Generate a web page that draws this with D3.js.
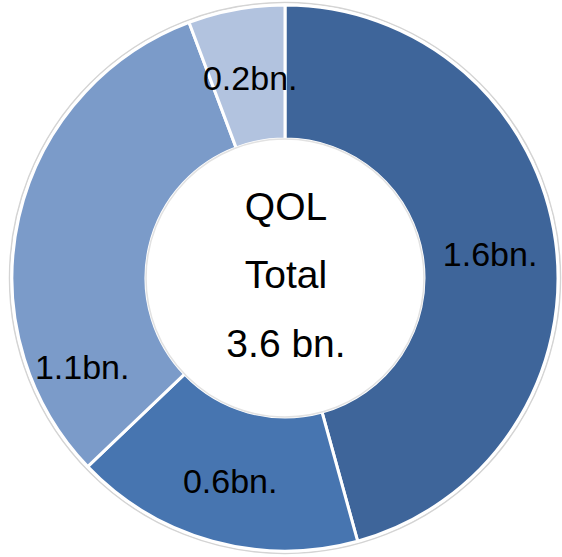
<!DOCTYPE html>
<html>
<head>
<meta charset="utf-8">
<script src="https://cdn.jsdelivr.net/npm/d3@7"></script>
<style>
  html, body { margin: 0; padding: 0; background: #fff; }
  svg { display: block; }
  text { font-family: "Liberation Sans", Arial, sans-serif; fill: #000; }
</style>
</head>
<body>
<div id="chart"></div>
<script>
// datos del gráfico
var categories = ["A", "B", "C", "D"];
var values = [1.6, 0.6, 1.1, 0.2];
var sliceLabels = ["1.6bn.", "0.6bn.", "1.1bn.", "0.2bn."];
var centerLines = ["QOL", "Total", "3.6 bn."];
var colors = ["#3e659a", "#4775b0", "#7b9bc9", "#b2c3df"];

var w = 562, h = 557;
var cx = 285, cy = 278;
var rOuter = 273, rInner = 139;

// ajuste manual de la etiqueta 1.1 (en el original está más abajo)
var labelNudge = [[1, 4], [0, 5], [-2, 135], [2, 3]];
// líneas base del texto central, relativas al centro
var centerBase = [-58, 10, 79];

var svg = d3.select("#chart").append("svg")
    .attr("width", w)
    .attr("height", h);

var g = svg.append("g")
    .attr("transform", translation(cx, cy));

// sombra tenue del borde exterior
g.append("circle")
    .attr("r", rOuter + 2.5)
    .style("fill", "none")
    .style("stroke", "#d4d4d4")
    .style("stroke-width", 1.5);

var pie = d3.pie()
    .sort(null)
    .value(function(d) { return d; });

var arc = d3.arc()
    .innerRadius(rInner)
    .outerRadius(rOuter);

var arcs = pie(values);

g.selectAll("path.slice")
    .data(arcs)
    .enter()
    .append("path")
      .attr("class", "slice")
      .attr("d", arc)
      .style("fill", function(d, i) { return colors[i]; })
      .style("stroke", "#fff")
      .style("stroke-width", 3)
      .style("stroke-linejoin", "round");

// borde blanco del agujero
g.append("circle")
    .attr("r", rInner)
    .style("fill", "#fff")
    .style("stroke", "#e2e2e2")
    .style("stroke-width", 1.5);

// etiquetas
g.selectAll("text.lbl")
    .data(arcs)
    .enter()
    .append("text")
      .attr("class", "lbl")
      .attr("x", function(d, i) { return arc.centroid(d)[0] + labelNudge[i][0]; })
      .attr("y", function(d, i) { return arc.centroid(d)[1] + labelNudge[i][1]; })
      .attr("dy", "0.35em")
      .attr("text-anchor", "middle")
      .style("font-size", "34px")
      .text(function(d, i) { return sliceLabels[i]; });

// texto central
g.selectAll("text.center")
    .data(centerLines)
    .enter()
    .append("text")
      .attr("class", "center")
      .attr("x", 1)
      .attr("y", function(d, i) { return centerBase[i]; })
      .attr("text-anchor", "middle")
      .style("font-size", "39px")
      .text(function(d) { return d; });

function translation(x, y) {
    return 'translate(' + x + ',' + y + ')';
}
</script>
</body>
</html>
